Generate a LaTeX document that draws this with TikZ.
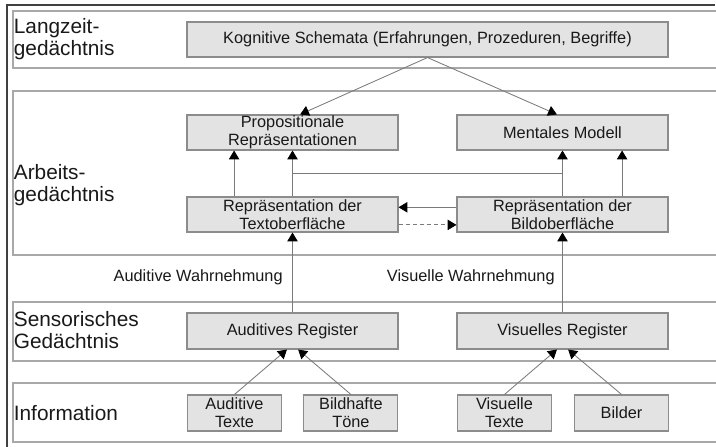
\documentclass[tikz,border=0pt]{standalone}
\usepackage{fontspec}
\setmainfont{Liberation Sans}
\usepackage{xcolor}
\usetikzlibrary{arrows.meta,calc,positioning}
\definecolor{boxfill}{HTML}{E3E3E3}
\definecolor{boxline}{HTML}{8C8C8C}
\definecolor{bandline}{HTML}{A8A8A8}
\definecolor{linkline}{HTML}{7A7A7A}

\begin{document}
\begin{tikzpicture}[>={Triangle[length=0.22cm,width=0.26cm,color=black]},
    box/.style={draw=boxline, line width=0.8pt, fill=boxfill, minimum height=0.875cm, minimum width=5.275cm, inner sep=0pt, align=center, text=black!90, font=\fontsize{11.6}{12.8}\selectfont},
    smallbox/.style={box, minimum width=2.35cm, minimum height=0.9cm},
    layer/.style={anchor=west, inner sep=0pt, align=left, text=black!90, font=\fontsize{14.8}{15.6}\selectfont},
    sense/.style={anchor=east, inner sep=0pt, text=black!90, font=\fontsize{11.6}{12.8}\selectfont},
    link/.style={draw=linkline, line width=0.6pt},
    band/.style={draw=bandline, line width=1pt}]

    \useasboundingbox (0,0) rectangle (17.9,-11.175);

    %% Frame and layers
    \draw [line width=1.3pt, draw=black!75] (0.175,-11.3) -- (0.175,-0.125) -- (17.875,-0.125);
    \foreach \t/\b in {0.275/1.7, 2.275/6.375, 7.55/9.025, 9.575/11.05}
        \draw [band] (18,-\t) -- (0.32,-\t) -- (0.32,-\b) -- (18,-\b);

    \node [layer] (lzg) at (0.34,-0.975) {Langzeit-\\gedächtnis};
    \node [layer] (agd) at (0.34,-4.625) {Arbeits-\\gedächtnis};
    \node [layer] (sgd) at (0.34,-8.25) {Sensorisches\\Gedächtnis};
    \node [layer] (inf) at (0.34,-10.325) {Information};

    %% Boxes
    \node [box, minimum width=12.025cm] (kog) at (10.6875,-0.9875) {Kognitive Schemata (Erfahrungen, Prozeduren, Begriffe)};
    \node at (kog) [box, xshift=-3.375cm, yshift=-2.325cm] (prop) {Propositionale\\Repräsentationen};
    \node at (prop) [box, xshift=6.75cm] (ment) {Mentales Modell};
    \node at (prop) [box, yshift=-2.05cm] (text) {Repräsentation der\\Textoberfläche};
    \node at (text) [box, xshift=6.75cm] (bild) {Repräsentation der\\Bildoberfläche};
    \node at (text) [box, yshift=-2.9125cm, minimum height=0.9cm] (audreg) {Auditives Register};
    \node at (audreg) [box, xshift=6.75cm, minimum height=0.9cm] (visreg) {Visuelles Register};
    \node at (audreg) [smallbox, xshift=-1.45cm, yshift=-2.05cm] (audtxt) {Auditive\\Texte};
    \node at (audreg) [smallbox, xshift=1.46cm, yshift=-2.05cm] (toene) {Bildhafte\\Töne};
    \node at (visreg) [smallbox, xshift=-1.45cm, yshift=-2.05cm] (vistxt) {Visuelle\\Texte};
    \node at (visreg) [smallbox, xshift=1.475cm, yshift=-2.05cm] (bilder) {Bilder};

    \node at (text.south) [sense, xshift=-0.24cm, yshift=-1.125cm] (audw) {Auditive Wahrnehmung};
    \node at (bild.south) [sense, xshift=-0.19cm, yshift=-1.125cm] (visw) {Visuelle Wahrnehmung};

    %% Arrows
    \draw [link, ->] (kog.south) -- ([xshift=0.19cm]prop.north);
    \draw [link, ->] (kog.south) -- ([xshift=-0.14cm]ment.north);
    \draw [link, ->] ([xshift=-1.46cm]text.north) -- ([xshift=-1.46cm]prop.south);
    \draw [link, ->] (text) -- (prop);
    \draw [link, ->] (bild) -- (ment);
    \draw [link, ->] ([xshift=1.49cm]bild.north) -- ([xshift=1.49cm]ment.south);
    \draw [link] ($(text.north)!0.5!(prop.south)$) -- ($(bild.north)!0.5!(ment.south)$);
    \draw [link, ->] ([yshift=0.18cm]bild.west) -- ([yshift=0.18cm]text.east);
    \draw [link, ->, dash pattern=on 3pt off 2pt] ([yshift=-0.26cm]text.east) -- ([yshift=-0.26cm]bild.west);
    \draw [link, ->] (audreg) -- (text);
    \draw [link, ->] (visreg) -- (bild);
    \draw [link, ->] (audtxt.north) -- ([xshift=-0.14cm]audreg.south);
    \draw [link, ->] (toene.north) -- ([xshift=0.14cm]audreg.south);
    \draw [link, ->] (vistxt.north) -- ([xshift=-0.14cm]visreg.south);
    \draw [link, ->] (bilder.north) -- ([xshift=0.14cm]visreg.south);
\end{tikzpicture}
\end{document}
